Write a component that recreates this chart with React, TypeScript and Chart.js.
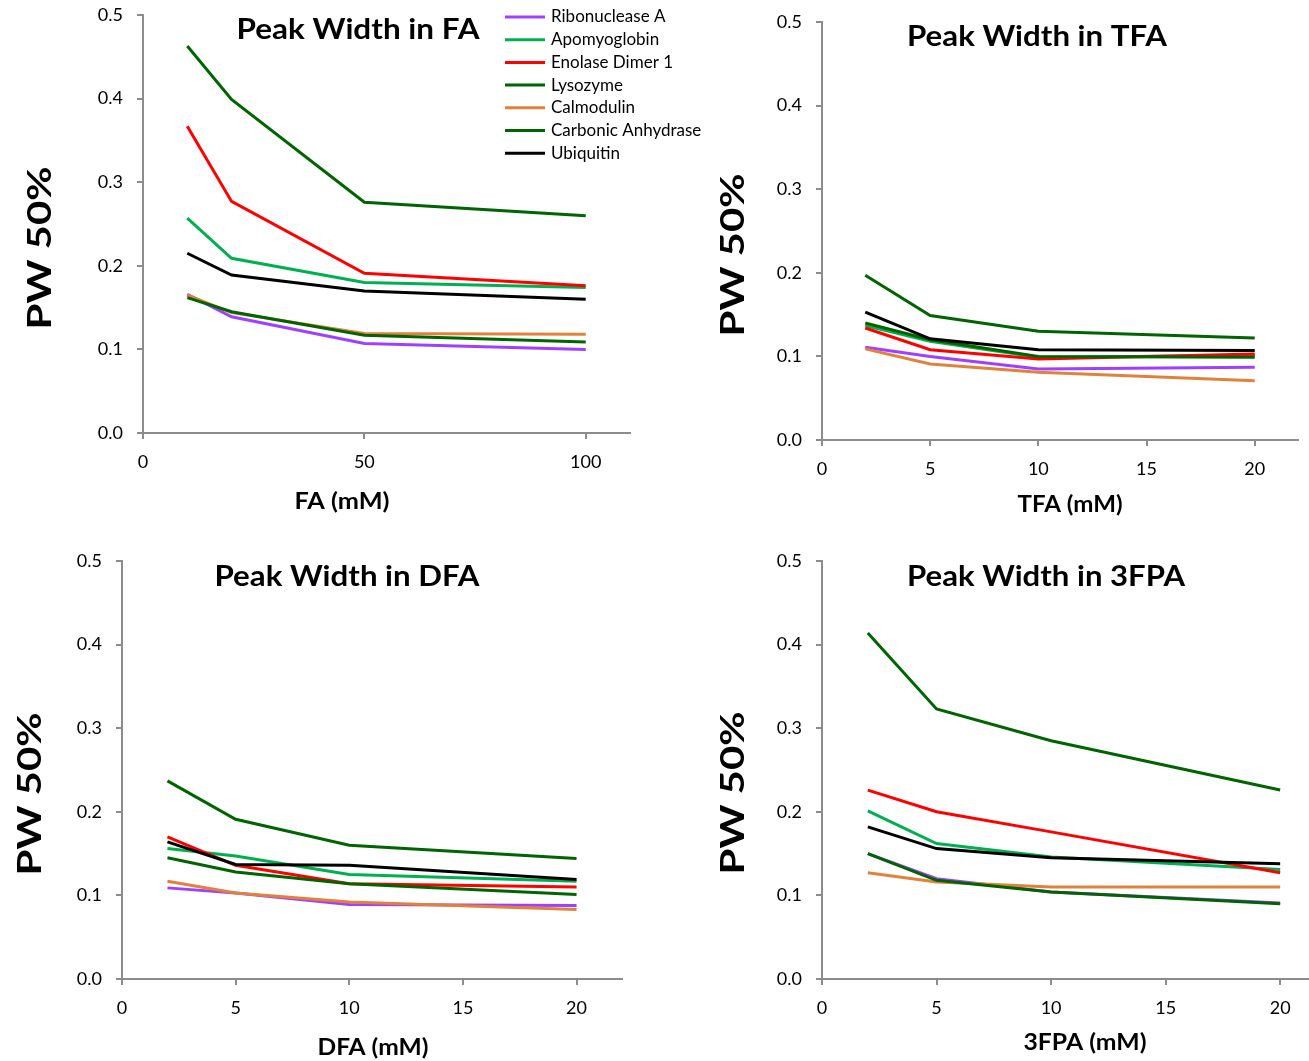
import React, { useEffect, useRef } from 'react';
import { Chart, registerables } from 'chart.js';

Chart.register(...registerables);

// ---------------- data ----------------
const proteins = [
  'Ribonuclease A',
  'Apomyoglobin',
  'Enolase Dimer 1',
  'Lysozyme',
  'Calmodulin',
  'Carbonic Anhydrase',
  'Ubiquitin',
];
const proteinColors = ['#A040FF', '#00B050', '#FF0000', '#006400', '#E0823C', '#006400', '#000000'];

const yTicks = [0, 0.1, 0.2, 0.3, 0.4, 0.5];

// FA panel (x = FA mM)
const faConc = [10, 20, 50, 100];
const faValues = [
  [0.166, 0.139, 0.107, 0.100], // Ribonuclease A
  [0.257, 0.209, 0.180, 0.174], // Apomyoglobin
  [0.367, 0.277, 0.191, 0.176], // Enolase Dimer 1
  [0.463, 0.399, 0.276, 0.260], // Lysozyme
  [0.165, 0.144, 0.119, 0.118], // Calmodulin
  [0.162, 0.145, 0.117, 0.109], // Carbonic Anhydrase
  [0.215, 0.189, 0.170, 0.160], // Ubiquitin
];

// TFA panel
const tfaConc = [2, 5, 10, 20];
const tfaValues = [
  [0.111, 0.100, 0.085, 0.087],
  [0.137, 0.118, 0.099, 0.101],
  [0.134, 0.108, 0.097, 0.103],
  [0.197, 0.149, 0.130, 0.122],
  [0.109, 0.091, 0.081, 0.071],
  [0.140, 0.120, 0.100, 0.099],
  [0.153, 0.121, 0.108, 0.107],
];

// DFA panel
const dfaConc = [2, 5, 10, 20];
const dfaValues = [
  [0.109, 0.103, 0.089, 0.088],
  [0.156, 0.147, 0.125, 0.117],
  [0.170, 0.136, 0.114, 0.110],
  [0.237, 0.191, 0.160, 0.144],
  [0.117, 0.103, 0.092, 0.083],
  [0.145, 0.128, 0.114, 0.101],
  [0.164, 0.137, 0.136, 0.119],
];

// 3FPA panel
const fpaConc = [2, 5, 10, 20];
const fpaValues = [
  [0.150, 0.120, 0.104, 0.091],
  [0.201, 0.162, 0.146, 0.131],
  [0.226, 0.200, 0.176, 0.127],
  [0.414, 0.323, 0.285, 0.226],
  [0.127, 0.116, 0.110, 0.110],
  [0.150, 0.118, 0.104, 0.090],
  [0.182, 0.156, 0.145, 0.138],
];

// ---------------- layout / styling ----------------
type Panel = {
  title: string;
  xTitle: string;
  conc: number[];
  values: number[][];
  xMax: number;
  xStep: number;
  box: { x: number; y: number; w: number; h: number };
  area: { l: number; r: number; t: number; b: number };
  titlePos: [number, number, number];
  xTitlePos: [number, number, number];
  yTitlePos: [number, number, number];
  legend: boolean;
};

const panels: Panel[] = [
  {
    title: 'Peak Width in FA', xTitle: 'FA (mM)', conc: faConc, values: faValues, xMax: 110, xStep: 50,
    box: { x: 0, y: 0, w: 720, h: 530 }, area: { l: 143, r: 630, t: 15, b: 433 },
    titlePos: [358, 30, 243], xTitlePos: [342, 502, 95], yTitlePos: [40, 248, 163], legend: true,
  },
  {
    title: 'Peak Width in TFA', xTitle: 'TFA (mM)', conc: tfaConc, values: tfaValues, xMax: 22, xStep: 5,
    box: { x: 660, y: 0, w: 649, h: 530 }, area: { l: 822, r: 1298, t: 22, b: 440 },
    titlePos: [1037, 37, 260], xTitlePos: [1070, 505, 105], yTitlePos: [733, 255, 163], legend: false,
  },
  {
    title: 'Peak Width in DFA', xTitle: 'DFA (mM)', conc: dfaConc, values: dfaValues, xMax: 22, xStep: 5,
    box: { x: 0, y: 530, w: 650, h: 531 }, area: { l: 122, r: 622, t: 561, b: 979 },
    titlePos: [347, 577, 265], xTitlePos: [373, 1048, 111], yTitlePos: [30, 794, 163], legend: false,
  },
  {
    title: 'Peak Width in 3FPA', xTitle: '3FPA (mM)', conc: fpaConc, values: fpaValues, xMax: 22, xStep: 5,
    box: { x: 660, y: 530, w: 670, h: 531 }, area: { l: 822, r: 1326, t: 561, b: 979 },
    titlePos: [1046, 577, 278], xTitlePos: [1085, 1043, 123], yTitlePos: [733, 793, 163], legend: false,
  },
];

const FONT = 'Lato, "Open Sans", sans-serif';

function fitText(ctx: CanvasRenderingContext2D, text: string, x: number, y: number, w: number, font: string, rotate: boolean) {
  ctx.save();
  ctx.font = font;
  const m = ctx.measureText(text).width || 1;
  ctx.translate(x, y);
  if (rotate) ctx.rotate(-Math.PI / 2);
  ctx.scale(w / m, 1);
  ctx.textAlign = 'center';
  ctx.textBaseline = 'middle';
  ctx.fillStyle = '#000';
  ctx.fillText(text, 0, 0);
  ctx.restore();
}

const panelTextPlugin = {
  id: 'panelText',
  afterDraw(chart: any, _args: any, opts: any) {
    const p: Panel = opts.panel;
    if (!p) return;
    const ctx: CanvasRenderingContext2D = chart.ctx;
    const ox = p.box.x;
    const oy = p.box.y;
    fitText(ctx, p.title, p.titlePos[0] - ox, p.titlePos[1] - oy, p.titlePos[2], `bold 29px ${FONT}`, false);
    fitText(ctx, p.xTitle, p.xTitlePos[0] - ox, p.xTitlePos[1] - oy, p.xTitlePos[2], `bold 22px ${FONT}`, false);
    fitText(ctx, 'PW 50%', p.yTitlePos[0] - ox, p.yTitlePos[1] - oy, p.yTitlePos[2], `bold 33px ${FONT}`, true);
    if (p.legend) {
      ctx.save();
      ctx.font = `17px ${FONT}`;
      ctx.textBaseline = 'middle';
      ctx.textAlign = 'left';
      chart.data.datasets.forEach((ds: any, i: number) => {
        const y = 17 + i * 22.7 - oy;
        ctx.strokeStyle = ds.borderColor;
        ctx.lineWidth = 3;
        ctx.beginPath();
        ctx.moveTo(505 - ox, y);
        ctx.lineTo(545 - ox, y);
        ctx.stroke();
        ctx.fillStyle = '#000';
        ctx.fillText(ds.label, 551 - ox, y);
      });
      ctx.restore();
    }
  },
};

function PanelChart({ panel }: { panel: Panel }) {
  const ref = useRef<HTMLCanvasElement | null>(null);
  useEffect(() => {
    if (!ref.current) return;
    const { box, area } = panel;
    const chart = new Chart(ref.current, {
      type: 'line',
      data: {
        datasets: proteins.map((name, i) => ({
          label: name,
          data: panel.conc.map((c, j) => ({ x: c, y: panel.values[i][j] })),
          borderColor: proteinColors[i],
          backgroundColor: proteinColors[i],
          borderWidth: 3,
          pointRadius: 0,
          tension: 0,
          fill: false,
          order: proteins.length - i,
        })),
      },
      options: {
        animation: false,
        responsive: false,
        maintainAspectRatio: false,
        layout: { padding: { left: 0, top: area.t - box.y, right: box.x + box.w - area.r, bottom: 0 } },
        plugins: {
          legend: { display: false },
          tooltip: { enabled: false },
          title: { display: false },
          panelText: { panel },
        } as any,
        scales: {
          x: {
            type: 'linear',
            min: 0,
            max: panel.xMax,
            afterFit: (s: any) => { s.height = box.y + box.h - area.b; s.paddingRight = 0; },
            ticks: { stepSize: panel.xStep, includeBounds: false, color: '#000', font: { family: FONT, size: 18 }, padding: 12, maxRotation: 0 },
            grid: { drawOnChartArea: false, drawTicks: true, tickLength: 6, color: '#8C8C8C', lineWidth: 2 },
            border: { color: '#8C8C8C', width: 2 },
          },
          y: {
            type: 'linear',
            min: 0,
            max: 0.5,
            afterFit: (s: any) => { s.width = area.l - box.x; s.paddingTop = 0; s.paddingBottom = 0; },
            afterBuildTicks: (s: any) => { s.ticks = yTicks.map((v) => ({ value: v })); },
            ticks: { color: '#000', font: { family: FONT, size: 18 }, padding: 14, callback: (v: any) => Number(v).toFixed(1) },
            grid: { drawOnChartArea: false, drawTicks: true, tickLength: 6, color: '#8C8C8C', lineWidth: 2 },
            border: { color: '#8C8C8C', width: 2 },
          },
        },
      } as any,
      plugins: [panelTextPlugin],
    });
    return () => chart.destroy();
  }, [panel]);
  return (
    <canvas
      ref={ref}
      width={panel.box.w}
      height={panel.box.h}
      style={{ position: 'absolute', left: panel.box.x, top: panel.box.y, width: panel.box.w, height: panel.box.h }}
    />
  );
}

export default function App() {
  return (
    <div style={{ position: 'fixed', left: 0, top: 0, width: 1309, height: 1061, overflow: 'hidden', background: '#fff' }}>
      {panels.map((p) => (
        <PanelChart key={p.title} panel={p} />
      ))}
    </div>
  );
}
